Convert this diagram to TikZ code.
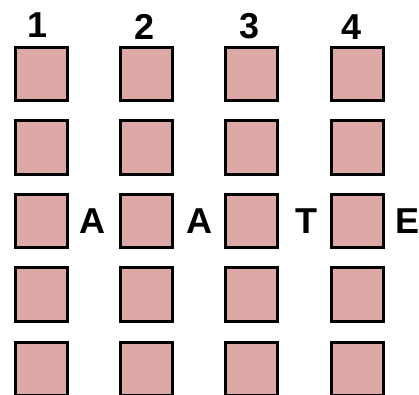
\documentclass[tikz,border=0pt]{standalone}
\usepackage{fontspec}
\setmainfont{Liberation Sans}
\definecolor{boxpink}{HTML}{DCA9A6}
\begin{document}
\begin{tikzpicture}[x=1pt,y=-1pt,
  cell/.style={draw=black,fill=boxpink,line width=3pt,minimum width=52pt,minimum height=53.6pt,inner sep=0pt,outer sep=0pt},
  lab/.style={font=\fontsize{36}{36}\selectfont\bfseries,inner sep=0pt}]
\useasboundingbox (0,0) rectangle (419,394);
\foreach \c/\x in {1/41.3,2/146.5,3/251,4/357}{
  \foreach \r/\y in {1/74,2/147.3,3/221,4/294.3,5/369}{
    \node[cell] (b\c\r) at (\x,\y) {};
  }
}
\node[lab] (n1) at (38,25) {1};
\node[lab] (n2) at (145,27) {2};
\node[lab] (n3) at (250,26) {3};
\node[lab] (n4) at (352,27) {4};
\node[lab] (lA1) at (92,221) {A};
\node[lab] (lA2) at (199,221) {A};
\node[lab] (lT) at (306,221) {T};
\node[lab] (lE) at (407,221) {E};
\end{tikzpicture}
\end{document}
